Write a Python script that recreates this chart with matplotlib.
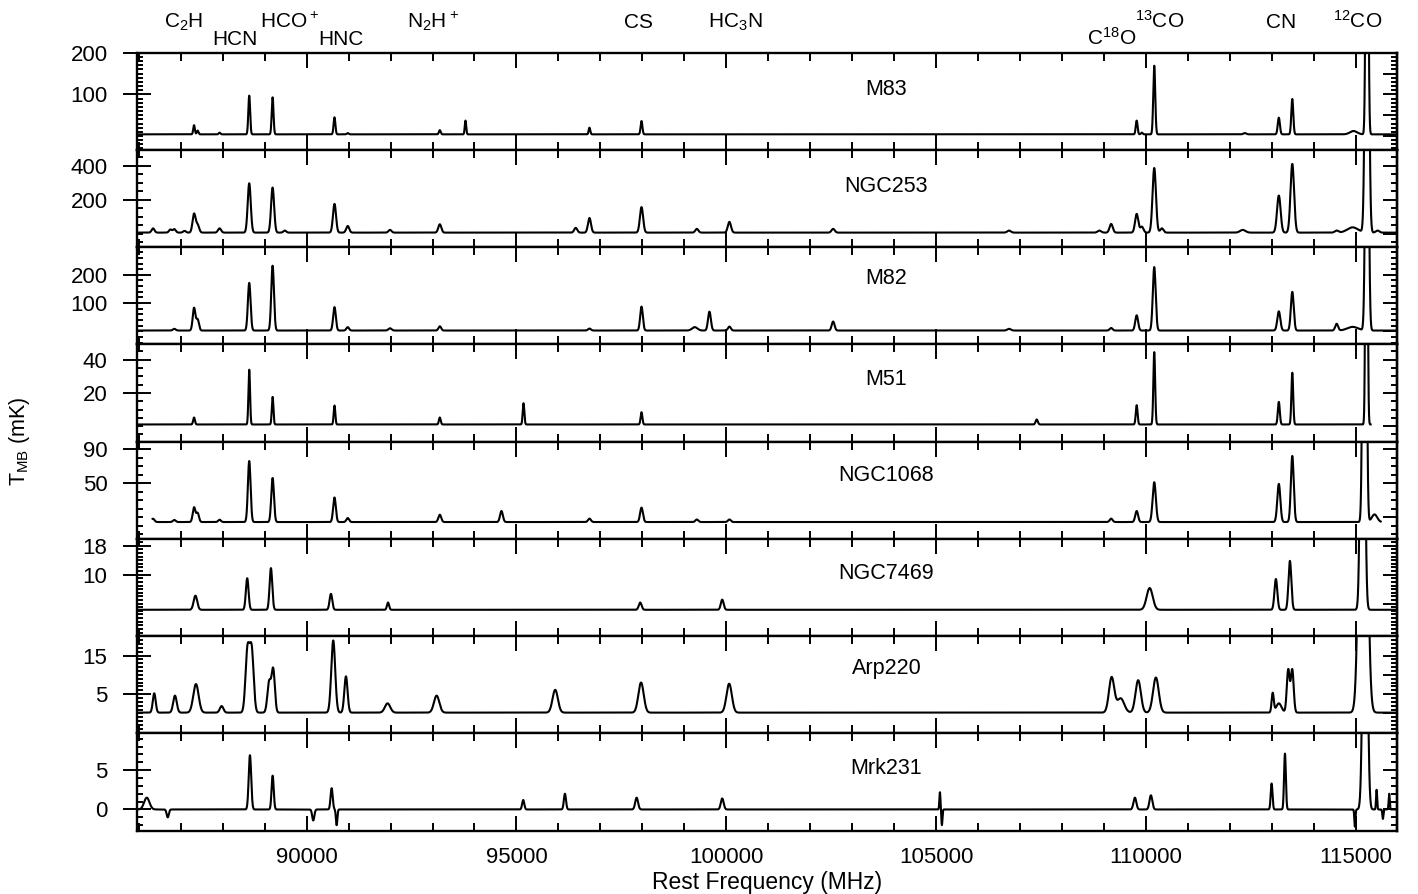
import numpy as np
import matplotlib.pyplot as plt
from matplotlib import transforms
from matplotlib.ticker import MultipleLocator, FixedLocator

plt.rcParams['font.family'] = ['Liberation Sans', 'DejaVu Sans']
plt.rcParams['mathtext.default'] = 'regular'

galaxies = ['M83', 'NGC253', 'M82', 'M51', 'NGC1068', 'NGC7469', 'Arp220', 'Mrk231']

# frequency coverage of each spectrum (MHz)
cov_start = [85950, 85950, 85950, 85950, 86330, 85950, 85950, 85950]
cov_end = [115980, 115980, 115980, 115360, 115600, 115980, 115980, 115980]
baseline = [4, 8, 2.5, 1.0, 4.1, 0.3, 0.2, 0.0]

# y ranges and ticks per panel (mK)
y_lo = [-33.6, -78, -47, -9.4, -15.9, -7.0, -5.2, -2.7]
y_hi = [200, 494, 298, 49.2, 98.9, 19.85, 20.0, 9.66]
y_labels = [[100, 200], [200, 400], [100, 200], [20, 40], [50, 90], [10, 18], [5, 15], [0, 5]]
y_major = [[0, 50, 100, 150, 200], [0, 200, 400], [0, 100, 200], [0, 20, 40],
           [10, 50, 90], [2, 10, 18], [0, 5, 10, 15, 20], [0, 5]]
y_minor = [10, 50, 20, 5, 10, 1, 1, 1]

# detected lines per galaxy: (frequency MHz, peak mK, FWHM MHz)
m83_lines = [(87317, 22, 45), (87402, 9, 45), (87925, 4, 50), (88632, 93, 50),
             (89189, 89, 50), (90664, 41, 50), (90979, 3, 50), (93174, 10, 50),
             (93786, 33, 40), (96741, 16, 45), (97981, 32, 50), (109782, 33, 50),
             (109905, 4, 50), (110201, 165, 55), (112360, 3, 80), (113170, 40, 60),
             (113491, 85, 55), (114950, 8, 200), (115271, 1200, 60)]
ngc253_lines = [(86340, 25, 80), (86754, 18, 80), (86847, 20, 80), (87090, 10, 80),
                (87317, 110, 85), (87402, 45, 85), (87925, 25, 85), (88632, 290, 85),
                (89189, 265, 85), (89480, 12, 80), (90664, 169, 85), (90979, 39, 85),
                (91987, 16, 85), (93174, 49, 85), (96413, 28, 85), (96741, 86, 85),
                (97981, 150, 90), (99300, 22, 85), (100076, 63, 90), (102548, 22, 90),
                (106740, 12, 100), (108894, 12, 100), (109174, 51, 90), (109782, 110, 90),
                (109905, 35, 90), (110201, 380, 95), (110383, 25, 90), (112310, 16, 150),
                (113170, 218, 100), (113491, 404, 100), (114548, 12, 100),
                (114929, 31, 300), (115271, 2800, 90), (115524, 12, 100)]
m82_lines = [(86847, 6, 80), (87317, 80, 75), (87402, 39, 75), (88632, 169, 75),
             (89189, 230, 75), (90664, 83, 75), (90979, 12, 75), (91987, 8, 90),
             (93174, 15, 75), (96741, 7, 80), (97981, 85, 75), (99250, 12, 150),
             (99600, 67, 80), (100076, 14, 80), (102548, 32, 80), (106740, 6, 100),
             (109174, 9, 80), (109782, 54, 80), (110201, 225, 80), (113170, 68, 85),
             (113491, 137, 80), (114548, 24, 80), (114929, 13, 300), (115271, 1400, 80)]
m51_lines = [(87317, 4.2, 50), (88632, 33, 45), (89189, 16.6, 45), (90664, 11.4, 45),
             (93174, 4.2, 50), (95169, 12.8, 45), (97981, 7.4, 50), (107400, 3, 60),
             (109782, 11.6, 50), (110201, 43.6, 50), (113170, 13.6, 55),
             (113491, 31.2, 50), (115260, 320, 50)]
ngc1068_lines = [(86340, 3.9, 80), (86847, 2.4, 80), (87317, 17.2, 75), (87402, 10.6, 75),
                 (87925, 2.7, 75), (88632, 72, 75), (89189, 52, 75), (90664, 29, 75),
                 (90979, 4.7, 75), (93174, 8.6, 80), (94643, 13, 80), (96741, 4, 80),
                 (97981, 17, 80), (99300, 3, 80), (100076, 3, 80), (109174, 4, 80),
                 (109782, 13, 80), (110201, 47, 90), (113170, 45, 85), (113491, 78, 80),
                 (115214, 900, 80), (115450, 9, 150)]
ngc7469_lines = [(87350, 3.9, 100), (88584, 8.7, 75), (89149, 11.5, 75), (90579, 4.4, 75),
                 (91940, 2, 60), (97950, 2, 80), (99905, 2.8, 80), (110092, 6, 170),
                 (113100, 8.5, 80), (113434, 13.5, 80), (115167, 140, 100)]
arp220_lines = [(86368, 5.0, 80), (86862, 4.4, 100), (87362, 7.4, 150), (87974, 1.7, 100),
                (88590, 16, 110), (88690, 16, 110), (89108, 8.0, 100), (89204, 11, 90),
                (90634, 18.7, 110), (90937, 9.4, 90), (91929, 2.4, 150), (93098, 4.4, 150),
                (95924, 5.9, 150), (97970, 7.8, 150), (100070, 7.5, 150),
                (109185, 9.1, 150), (109400, 3.7, 200), (109818, 8.4, 150),
                (110240, 9.1, 160), (113024, 5, 60), (113170, 2.4, 150),
                (113394, 11.1, 80), (113490, 11.1, 80), (115180, 150, 180)]
mrk231_lines = [(86190, 1.5, 150), (86690, -1.0, 60), (88649, 6.9, 70), (89190, 4.3, 60),
                (90158, -1.4, 60), (90596, 2.7, 60), (90715, -2.0, 40), (95162, 1.2, 60),
                (96156, 2.0, 60), (97865, 1.5, 80), (99905, 1.4, 80), (105093, 2.2, 30),
                (105140, -2.0, 30), (109740, 1.5, 80), (110121, 1.8, 80),
                (112998, 3.3, 50), (113316, 7.1, 50), (114983, -2.2, 30),
                (115226, 50, 110), (115500, 2.5, 30), (115650, -1.2, 30), (115800, 2, 30)]
all_lines = [m83_lines, ngc253_lines, m82_lines, m51_lines, ngc1068_lines,
             ngc7469_lines, arp220_lines, mrk231_lines]

# molecule labels along the top
mol_names = ['C$_2$H', 'HCN', 'HCO$^+$', 'HNC', 'N$_2$H$^+$', 'CS', 'HC$_3$N',
             'C$^{18}$O', '$^{13}$CO', 'CN', '$^{12}$CO']
mol_x = [87064, 88291, 89590, 90829, 93022, 97919, 100207, 109192, 110336, 113220, 115043]
mol_row = [0, 1, 0, 1, 0, 0, 0, 1, 0, 0, 0]

fig, axes = plt.subplots(8, 1, sharex=True, figsize=(14.18, 8.94), dpi=100)
fig.subplots_adjust(left=0.0964, right=0.985, top=0.941, bottom=0.0708, hspace=0)

label_y = [0.565, 0.573, 0.617, 0.588, 0.591, 0.593, 0.616, 0.584]

for i, ax in enumerate(axes):
    freq = np.arange(cov_start[i], cov_end[i], 2.0)
    spec = np.full_like(freq, baseline[i])
    for f0, peak, fwhm in all_lines[i]:
        spec += peak * np.exp(-4 * np.log(2) * (freq - f0) ** 2 / fwhm ** 2)
    ax.plot(freq, spec, color='black', lw=1.5)

    ax.set_xlim(85950, 115980)
    ax.set_ylim(y_lo[i], y_hi[i])
    for s in ax.spines.values():
        s.set_linewidth(1.7)

    ax.xaxis.set_major_locator(MultipleLocator(5000))
    ax.xaxis.set_minor_locator(MultipleLocator(1000))
    ax.tick_params(axis='x', which='both', direction='in', top=True, bottom=True, width=1.4)
    ax.tick_params(axis='x', which='major', length=10.8, labelsize=16, pad=12)
    ax.tick_params(axis='x', which='minor', length=5.8)

    ax.yaxis.set_major_locator(FixedLocator(y_labels[i]))
    ax.yaxis.set_minor_locator(MultipleLocator(y_minor[i]))
    ax.tick_params(axis='y', which='both', right=False, width=1.4)
    ax.tick_params(axis='y', which='major', direction='inout', length=20, labelsize=16, pad=11)
    ax.tick_params(axis='y', which='minor', direction='in', length=4.3)

    sec = ax.secondary_yaxis('right')
    sec.set_yticks(y_major[i])
    sec.yaxis.set_minor_locator(MultipleLocator(y_minor[i]))
    sec.tick_params(which='both', direction='in', labelright=False, width=1.4)
    sec.tick_params(which='major', length=10)
    sec.tick_params(which='minor', length=4.3)
    sec.spines['right'].set_linewidth(1.7)

    ax.text(103818, label_y[i], galaxies[i], transform=ax.get_xaxis_transform(),
            ha='center', va='baseline', fontsize=15.5)

axes[-1].set_xlabel('Rest Frequency (MHz)', fontsize=16.5, labelpad=2)
fig.text(0.0141, 0.506, 'T$_{MB}$ (mK)', rotation=90, ha='center', va='center', fontsize=15.5)

row_y = [0.9687, 0.9497]
trans = transforms.blended_transform_factory(axes[0].transData, fig.transFigure)
for name, x, r in zip(mol_names, mol_x, mol_row):
    axes[0].text(x, row_y[r], name, transform=trans, ha='center', va='baseline',
                 fontsize=15, clip_on=False)

fig.savefig('out.png', dpi=100)
